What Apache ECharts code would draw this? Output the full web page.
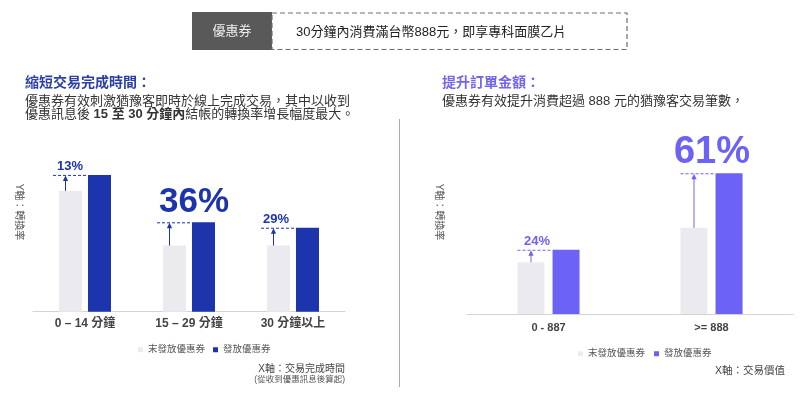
<!DOCTYPE html>
<html lang="zh-TW"><head><meta charset="utf-8">
<script src="https://cdn.jsdelivr.net/npm/echarts@6/dist/echarts.min.js"></script>
<style>html,body{margin:0;padding:0;background:#fff}#c{width:800px;height:393px}</style>
</head><body><div id="c"></div>
<script>
// ---- data ----
const seriesNames = ['末發放優惠券', '發放優惠券'];
const timeCategories = ['0 – 14 分鐘', '15 – 29 分鐘', '30 分鐘以上'];
const timeNoCoupon = [40.0, 21.9, 21.9];
const timeCoupon = [45.3, 29.6, 27.8];
const timeLiftLabels = ['13%', '36%', '29%'];
const valueCategories = ['0 - 887', '>= 888'];
const valueNoCoupon = [20.7, 34.5];
const valueCoupon = [25.7, 56.3];
const valueLiftLabels = ['24%', '61%'];

// ---- styles ----
const FF = "'Liberation Sans', Arial, 'Noto Sans CJK TC', sans-serif";
const GRAY = '#EBEBEF';
const BLUE = '#1C34AC';
const PURPLE = '#6C62F5';

function liftRenderer(cfg) {
  return function (params, api) {
    const i = params.dataIndex;
    const cat = api.value(0);
    const base = api.coord([cat, 0]);
    const g = api.coord([cat, api.value(1)]);
    const b = api.coord([cat, api.value(2)]);
    const cx = base[0];
    const grayLeft = cx - cfg.gap / 2 - cfg.barW;
    const blueLeft = cx + cfg.gap / 2;
    const ax = grayLeft + cfg.arrowDx;
    const y0 = g[1], y1 = b[1];
    const c = cfg.color;
    return {
      type: 'group', children: [
        { type: 'line', shape: { x1: grayLeft - cfg.dashExt, y1: y1 + 0.5, x2: blueLeft, y2: y1 + 0.5 }, style: { stroke: c, lineWidth: 1, lineDash: [3, 2] } },
        { type: 'line', shape: { x1: ax, y1: y0, x2: ax, y2: y1 + 4 }, style: { stroke: c, lineWidth: 1 } },
        { type: 'polygon', shape: { points: [[ax, y1 + 0.5], [ax - 2.6, y1 + 6], [ax + 2.6, y1 + 6]] }, style: { fill: c } },
        { type: 'text', x: cx + cfg.labelDx[i], y: y1 - 2, style: { text: cfg.labels[i], fill: c, fontSize: cfg.labelSize[i], fontWeight: 'bold', fontFamily: FF, align: 'center', verticalAlign: 'bottom' } }
      ]
    };
  };
}

const chart = echarts.init(document.getElementById('c'), null, { renderer: 'canvas' });

const axisLineStyle = { lineStyle: { color: '#D2D2DA', width: 1 } };

const option = {
  animation: false,
  backgroundColor: '#fff',
  grid: [
    { left: 33, top: 130.5, width: 312, height: 181.2 },
    { left: 467, top: 139, width: 326, height: 175 }
  ],
  xAxis: [
    { gridIndex: 0, type: 'category', data: timeCategories, axisLine: axisLineStyle, axisTick: { show: false },
      axisLabel: { fontSize: 12, fontWeight: 'bold', color: '#444', margin: 6, fontFamily: FF } },
    { gridIndex: 1, type: 'category', data: valueCategories, axisLine: axisLineStyle, axisTick: { show: false },
      axisLabel: { fontSize: 11, fontWeight: 'bold', color: '#444', margin: 8, fontFamily: FF } }
  ],
  yAxis: [
    { gridIndex: 0, type: 'value', min: 0, max: 60, show: false, splitLine: { show: false } },
    { gridIndex: 1, type: 'value', min: 0, max: 70, show: false, splitLine: { show: false } }
  ],
  legend: [
    { data: [{ name: seriesNames[0], itemStyle: { color: GRAY } }, { name: seriesNames[1], itemStyle: { color: BLUE } }],
      left: 133, top: 340, itemWidth: 5, itemHeight: 5, itemGap: 8, icon: 'rect', selectedMode: false,
      textStyle: { fontSize: 9.5, color: '#555', fontFamily: FF } },
    { data: [{ name: seriesNames[0], itemStyle: { color: GRAY } }, { name: seriesNames[1], itemStyle: { color: PURPLE } }],
      left: 573, top: 344, itemWidth: 5, itemHeight: 5, itemGap: 9, icon: 'rect', selectedMode: false,
      textStyle: { fontSize: 9.5, color: '#555', fontFamily: FF } }
  ],
  series: [
    { name: seriesNames[0], type: 'bar', xAxisIndex: 0, yAxisIndex: 0, data: timeNoCoupon, barWidth: 23, barGap: '26%', itemStyle: { color: GRAY }, emphasis: { disabled: true } },
    { name: seriesNames[1], type: 'bar', xAxisIndex: 0, yAxisIndex: 0, data: timeCoupon, barWidth: 23, barGap: '26%', itemStyle: { color: BLUE }, emphasis: { disabled: true } },
    { name: seriesNames[0], type: 'bar', xAxisIndex: 1, yAxisIndex: 1, data: valueNoCoupon, barWidth: 27, barGap: '30%', itemStyle: { color: GRAY }, emphasis: { disabled: true } },
    { name: seriesNames[1], type: 'bar', xAxisIndex: 1, yAxisIndex: 1, data: valueCoupon, barWidth: 27, barGap: '30%', itemStyle: { color: PURPLE }, emphasis: { disabled: true } },
    { type: 'custom', xAxisIndex: 0, yAxisIndex: 0, z: 5, silent: true, encode: { x: 0, y: [1, 2] },
      data: timeCategories.map((c, i) => [i, timeNoCoupon[i], timeCoupon[i]]),
      renderItem: liftRenderer({ barW: 23, gap: 6, arrowDx: 6.5, dashExt: 6, color: BLUE, labels: timeLiftLabels, labelSize: [13, 35, 13], labelDx: [-15, 5, -17] }) },
    { type: 'custom', xAxisIndex: 1, yAxisIndex: 1, z: 5, silent: true, encode: { x: 0, y: [1, 2] },
      data: valueCategories.map((c, i) => [i, valueNoCoupon[i], valueCoupon[i]]),
      renderItem: liftRenderer({ barW: 27, gap: 8, arrowDx: 13.5, dashExt: 0, color: PURPLE, labels: valueLiftLabels, labelSize: [13, 38], labelDx: [-11.5, 0.5] }) }
  ],
  graphic: [
    { type: 'rect', shape: { x: 192, y: 12, width: 80, height: 38 }, style: { fill: '#595959' } },
    { type: 'rect', shape: { x: 272, y: 13, width: 355, height: 36.5 }, style: { fill: null, stroke: '#707070', lineWidth: 1.2, lineDash: [5, 3] } },
    { type: 'text', x: 232, y: 31.5, style: { text: '優惠券', fill: '#EEEEEE', fontSize: 13, fontFamily: FF, align: 'center', verticalAlign: 'middle' } },
    { type: 'text', x: 296, y: 32.5, style: { text: '30分鐘內消費滿台幣888元，即享專科面膜乙片', fill: '#222', fontSize: 13, fontFamily: FF, align: 'left', verticalAlign: 'middle' } },

    { type: 'text', x: 25, y: 83.5, style: { text: '縮短交易完成時間：', fill: '#2B3FA8', fontSize: 14, fontWeight: 'bold', fontFamily: FF, align: 'left', verticalAlign: 'middle' } },
    { type: 'text', x: 25, y: 101.7, style: { text: '優惠券有效刺激猶豫客即時於線上完成交易，其中以收到', fill: '#333', fontSize: 13, fontFamily: FF, align: 'left', verticalAlign: 'middle' } },
    { type: 'text', x: 25, y: 114, style: { text: '優惠訊息後 {b|15 至 30 分鐘內}結帳的轉換率增長幅度最大。', fill: '#333', fontSize: 13, fontFamily: FF, align: 'left', verticalAlign: 'middle',
        rich: { b: { fontWeight: 'bold', fontSize: 13, fontFamily: FF, fill: '#333' } } } },

    { type: 'text', x: 442, y: 83.5, style: { text: '提升訂單金額：', fill: '#7366EE', fontSize: 14, fontWeight: 'bold', fontFamily: FF, align: 'left', verticalAlign: 'middle' } },
    { type: 'text', x: 442, y: 101.7, style: { text: '優惠券有效提升消費超過 888 元的猶豫客交易筆數，', fill: '#333', fontSize: 13, fontFamily: FF, align: 'left', verticalAlign: 'middle' } },

    { type: 'line', shape: { x1: 399.5, y1: 119, x2: 399.5, y2: 387 }, style: { stroke: '#AAAAB0', lineWidth: 1 } },

    { type: 'text', x: 19, y: 212, rotation: -Math.PI / 2, style: { text: 'Y軸：轉換率', fill: '#555', fontSize: 10, fontFamily: FF, align: 'center', verticalAlign: 'middle' } },
    { type: 'text', x: 439, y: 212, rotation: -Math.PI / 2, style: { text: 'Y軸：轉換率', fill: '#555', fontSize: 10, fontFamily: FF, align: 'center', verticalAlign: 'middle' } },

    { type: 'text', x: 345, y: 369, style: { text: 'X軸：交易完成時間', fill: '#444', fontSize: 10, fontFamily: FF, align: 'right', verticalAlign: 'middle' } },
    { type: 'text', x: 345, y: 379.5, style: { text: '(從收到優惠訊息後算起)', fill: '#555', fontSize: 8.5, fontFamily: FF, align: 'right', verticalAlign: 'middle' } },
    { type: 'text', x: 785, y: 370.7, style: { text: 'X軸：交易價值', fill: '#444', fontSize: 10.5, fontFamily: FF, align: 'right', verticalAlign: 'middle' } }
  ]
};
chart.setOption(option);
</script>
</body></html>
